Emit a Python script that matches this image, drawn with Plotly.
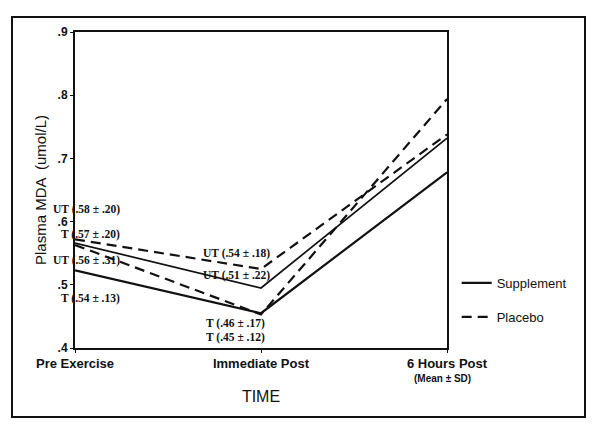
import plotly.graph_objects as go

# ---- data ----
time_labels = ["Pre Exercise", "Immediate Post", "6 Hours Post"]
time_pos = [0, 1, 2]

supp_trained = [0.523, 0.455, 0.678]
supp_untrained = [0.566, 0.495, 0.732]
plac_trained = [0.563, 0.453, 0.794]
plac_untrained = [0.572, 0.525, 0.738]

y_ticks = [0.4, 0.5, 0.6, 0.7, 0.8, 0.9]
y_tick_text = [".4", ".5", ".6", ".7", ".8", ".9"]

# annotation texts (mean ± SD) with positions in data units
pre_labels = ["UT (.58 ± .20)", "T (.57 ± .20)", "UT (.56 ± .31)", "T (.54 ± .13)"]
pre_label_y = [0.619, 0.580, 0.539, 0.479]
imm_ut_labels = ["UT (.54 ± .18)", "UT (.51 ± .22)"]
imm_ut_y = [0.550, 0.515]
imm_t_labels = ["T (.46 ± .17)", "T (.45 ± .12)"]
imm_t_y = [0.438, 0.417]
post_labels = ["T (.79 ± .26)", "UT (.75 ± .44)", "UT (.74 ± .46)", "T (.68 ± .13)"]
post_label_y = [0.805, 0.761, 0.735, 0.686]

DASH = "10px,6px"
BLACK = "#111111"

fig = go.Figure()
fig.add_trace(go.Scatter(x=time_pos, y=supp_trained, mode="lines", name="Supplement",
                         legendgroup="s", showlegend=True,
                         line=dict(color=BLACK, width=2.2)))
fig.add_trace(go.Scatter(x=time_pos, y=supp_untrained, mode="lines", name="Supplement",
                         legendgroup="s", showlegend=False,
                         line=dict(color=BLACK, width=1.7)))
fig.add_trace(go.Scatter(x=time_pos, y=plac_trained, mode="lines", name="Placebo",
                         legendgroup="p", showlegend=True,
                         line=dict(color=BLACK, width=2.2, dash=DASH)))
fig.add_trace(go.Scatter(x=time_pos, y=plac_untrained, mode="lines", name="Placebo",
                         legendgroup="p", showlegend=False,
                         line=dict(color=BLACK, width=2.2, dash=DASH)))

ann_font = dict(family="Liberation Serif", size=11.5, color=BLACK)
annotations = []
for t, y in zip(pre_labels, pre_label_y):
    annotations.append(dict(x=0.247, y=y, xref="x", yref="y", text="<b>%s</b>" % t,
                            showarrow=False, xanchor="right", yanchor="middle", font=ann_font,
                            borderpad=0))
for t, y in zip(imm_ut_labels, imm_ut_y):
    annotations.append(dict(x=1.054, y=y, xref="x", yref="y", text="<b>%s</b>" % t,
                            showarrow=False, xanchor="right", yanchor="middle", font=ann_font,
                            borderpad=0))
for t, y in zip(imm_t_labels, imm_t_y):
    annotations.append(dict(x=0.863, y=y, xref="x", yref="y", text="<b>%s</b>" % t,
                            showarrow=False, xanchor="center", yanchor="middle", font=ann_font,
                            borderpad=0))
for t, y in zip(post_labels, post_label_y):
    annotations.append(dict(x=2.027, y=y, xref="x", yref="y", text="<b>%s</b>" % t,
                            showarrow=False, xanchor="left", yanchor="middle", font=ann_font,
                            borderpad=0))
annotations.append(dict(x=1.978, y=-0.095, xref="x", yref="paper", text="<b>(Mean ± SD)</b>",
                        showarrow=False, xanchor="center", yanchor="middle",
                        font=dict(family="Liberation Sans", size=10, color=BLACK)))

# page has an 8px body margin: figure is 584x413 placed at (8, 8)
W, H = 584, 413
L, T = 67, 24
PW, PH = 372, 316
R, B = W - L - PW, H - T - PH
shapes = [dict(type="rect", xref="paper", yref="paper",
               x0=(4 - L) / PW, x1=(577 - L) / PW,
               y0=-(409 - (T + PH)) / PH, y1=1 + (T - 9) / PH,
               line=dict(color=BLACK, width=2), fillcolor="rgba(0,0,0,0)", layer="below")]

fig.update_layout(
    width=W, height=H,
    margin=dict(l=L, r=R, t=T, b=B, autoexpand=False),
    paper_bgcolor="white", plot_bgcolor="white",
    font=dict(family="Liberation Sans", color=BLACK),
    showlegend=True,
    legend=dict(x=1.026, y=0.152, xanchor="left", yanchor="middle",
                bgcolor="rgba(0,0,0,0)", tracegroupgap=14,
                font=dict(family="Liberation Sans", size=13, color=BLACK),
                itemwidth=30),
    annotations=annotations,
    shapes=shapes,
)
fig.update_xaxes(
    range=[0, 2], tickvals=time_pos, ticktext=["<b>%s</b>" % s for s in time_labels],
    tickfont=dict(family="Liberation Sans", size=13, color=BLACK),
    showline=True, linecolor=BLACK, linewidth=2, mirror=True,
    ticks="outside", ticklen=3, tickcolor=BLACK, showgrid=False, zeroline=False,
    ticklabelstandoff=-1,
    title=dict(text="TIME", font=dict(family="Liberation Sans", size=16, color=BLACK), standoff=21),
)
fig.update_yaxes(
    range=[0.4, 0.9], tickvals=y_ticks, ticktext=["<b>%s</b>" % s for s in y_tick_text],
    tickfont=dict(family="Liberation Sans", size=12, color=BLACK),
    showline=True, linecolor=BLACK, linewidth=2, mirror=True,
    ticks="outside", ticklen=3, tickcolor=BLACK, showgrid=False, zeroline=False,
    title=dict(text="Plasma MDA  (umol/L)", font=dict(family="Liberation Sans", size=15, color=BLACK), standoff=7),
)

fig.write_html("out.html")
